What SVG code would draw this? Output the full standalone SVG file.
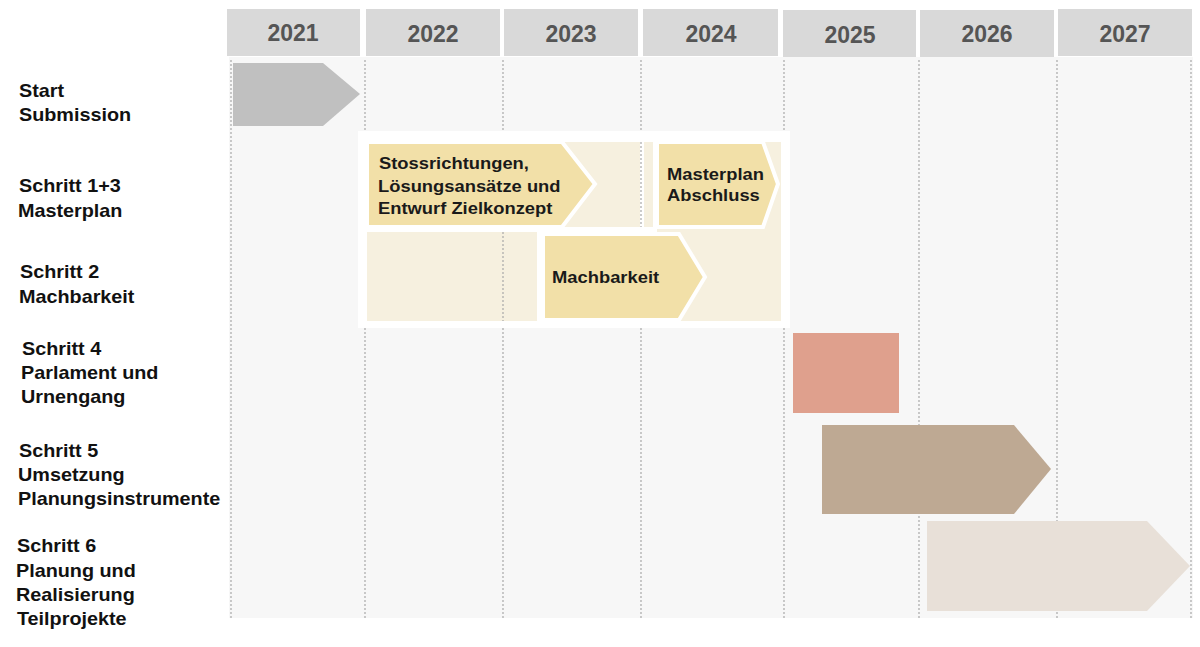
<svg xmlns="http://www.w3.org/2000/svg" width="1200" height="647" viewBox="0 0 1200 647">
  <style>
    .yr { font-family: "Liberation Sans", Arial, sans-serif; font-weight: bold; font-size: 23px; fill: #555555; text-anchor: middle; }
    .lbl { font-family: "Liberation Sans", Arial, sans-serif; font-weight: bold; font-size: 18px; fill: #111111; }
    .in { font-family: "Liberation Sans", Arial, sans-serif; font-weight: bold; font-size: 17px; fill: #1a1a1a; }
    .hdr { fill: #d9d9d9; }
    .grid { stroke: #a8a8a8; stroke-width: 1.2; stroke-dasharray: 2 2; fill: none; }
    .yel { fill: #f2e0a8; stroke: #ffffff; stroke-width: 4; stroke-linejoin: miter; }
    .beige { fill: #f6f0df; }
  </style>
  <rect width="1200" height="647" fill="#ffffff"/>
  <rect x="229" y="57" width="964" height="561" fill="#f7f7f7"/>

  <g id="header">
    <rect class="hdr" x="227" y="9" width="133" height="47"/>
    <rect class="hdr" x="366" y="9" width="134" height="47"/>
    <rect class="hdr" x="504" y="9" width="134" height="47"/>
    <rect class="hdr" x="643" y="9" width="135" height="47"/>
    <rect class="hdr" x="783" y="10" width="133" height="47"/>
    <rect class="hdr" x="920" y="10" width="134" height="47"/>
    <rect class="hdr" x="1058" y="9" width="134" height="47"/>
    <text class="yr" x="293" y="41">2021</text>
    <text class="yr" x="433" y="42">2022</text>
    <text class="yr" x="571" y="42">2023</text>
    <text class="yr" x="711" y="42">2024</text>
    <text class="yr" x="850" y="43">2025</text>
    <text class="yr" x="987" y="42">2026</text>
    <text class="yr" x="1125" y="42">2027</text>
  </g>

  <g id="connectors">
    <line class="grid" x1="231" y1="60" x2="231" y2="618"/>
    <line class="grid" x1="365" y1="60" x2="365" y2="618"/>
    <line class="grid" x1="503" y1="60" x2="503" y2="618"/>
    <line class="grid" x1="641" y1="60" x2="641" y2="618"/>
    <line class="grid" x1="784" y1="60" x2="784" y2="618"/>
    <line class="grid" x1="919" y1="60" x2="919" y2="618"/>
    <line class="grid" x1="1057" y1="60" x2="1057" y2="618"/>
    <line class="grid" x1="1191" y1="60" x2="1191" y2="618"/>
  </g>

  <g id="labels">
    <text class="lbl" transform="translate(19,97) scale(1.1,1)">Start</text>
    <text class="lbl" transform="translate(19,121) scale(1.1,1)">Submission</text>
    <text class="lbl" transform="translate(19,192) scale(1.1,1)">Schritt 1+3</text>
    <text class="lbl" transform="translate(18,217) scale(1.1,1)">Masterplan</text>
    <text class="lbl" transform="translate(20,278) scale(1.1,1)">Schritt 2</text>
    <text class="lbl" transform="translate(19,303) scale(1.1,1)">Machbarkeit</text>
    <text class="lbl" transform="translate(22,355) scale(1.1,1)">Schritt 4</text>
    <text class="lbl" transform="translate(21,379) scale(1.1,1)">Parlament und</text>
    <text class="lbl" transform="translate(21,403) scale(1.1,1)">Urnengang</text>
    <text class="lbl" transform="translate(19,457) scale(1.1,1)">Schritt 5</text>
    <text class="lbl" transform="translate(18,481) scale(1.1,1)">Umsetzung</text>
    <text class="lbl" transform="translate(18,505) scale(1.1,1)">Planungsinstrumente</text>
    <text class="lbl" transform="translate(17,552) scale(1.1,1)">Schritt 6</text>
    <text class="lbl" transform="translate(16,577) scale(1.1,1)">Planung und</text>
    <text class="lbl" transform="translate(16,601) scale(1.1,1)">Realisierung</text>
    <text class="lbl" transform="translate(17,625) scale(1.1,1)">Teilprojekte</text>
  </g>

  <g id="start-submission">
    <polygon points="233,63 323,63 360,94 323,126 233,126" fill="#c0c0c0"/>
  </g>

  <g id="masterplan-panel">
    <rect x="358" y="131" width="432" height="197" fill="#ffffff"/>
    <rect class="beige" x="560" y="142" width="80" height="85"/>
    <rect class="beige" x="644" y="142" width="9" height="85"/>
    <rect class="beige" x="657" y="142" width="124" height="179"/>
    <rect class="beige" x="367" y="232" width="170" height="89"/>
    <rect class="beige" x="541" y="232" width="240" height="89"/>
    <line class="grid" x1="641" y1="142" x2="641" y2="227"/>
    <line class="grid" x1="503" y1="232" x2="503" y2="321"/>
  </g>

  <g id="stossrichtungen">
    <polygon class="yel" points="367,142 562,142 595,184 562,227 367,227"/>
    <text class="in" transform="translate(379,169) scale(1.08,1)">Stossrichtungen,</text>
    <text class="in" transform="translate(378,192) scale(1.08,1)">Lösungsansätze und</text>
    <text class="in" transform="translate(378,214) scale(1.08,1)">Entwurf Zielkonzept</text>
  </g>

  <g id="masterplan-abschluss">
    <polygon class="yel" points="657,142 763,142 778,184 763,227 657,227"/>
    <text class="in" transform="translate(667,180) scale(1.08,1)">Masterplan</text>
    <text class="in" transform="translate(667,201) scale(1.08,1)">Abschluss</text>
  </g>

  <g id="machbarkeit">
    <polygon class="yel" points="543,234 679,234 705,277 679,320 543,320"/>
    <text class="in" transform="translate(552,283) scale(1.08,1)">Machbarkeit</text>
  </g>

  <g id="schritt4">
    <rect x="793" y="333" width="106" height="80" fill="#dfa08d"/>
  </g>

  <g id="schritt5">
    <polygon points="822,425 1014,425 1051,469 1014,514 822,514" fill="#bea993"/>
  </g>

  <g id="schritt6">
    <polygon points="927,521 1147,521 1190,566 1147,611 927,611" fill="#e8e0d8"/>
  </g>
</svg>
